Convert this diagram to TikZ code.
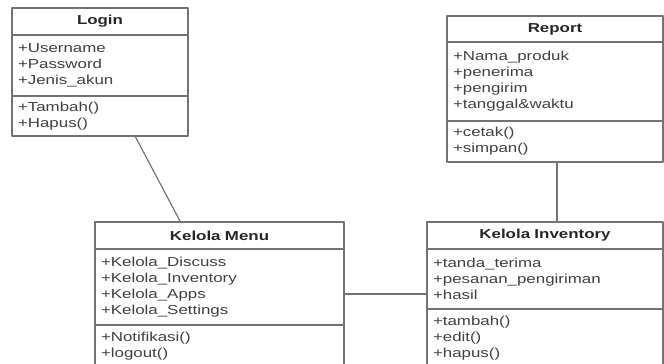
\documentclass[tikz,border=0pt]{standalone}
\usepackage{fontspec}
\setmainfont[FakeStretch=1.3]{Liberation Sans}
\usetikzlibrary{positioning}
\begin{document}
\begin{tikzpicture}[x=1pt, y=-1pt, line join=round, line cap=round,
  font=\fontsize{13}{16}\selectfont,
  box/.style={draw=black!55, line width=1.2pt, anchor=north west, inner xsep=6pt, inner ysep=0pt, outer sep=0pt, text=black!75},
  head/.style={box, font=\fontsize{13}{16}\selectfont\bfseries, align=center, text=black!85},
  list/.style={box, align=left},
  link/.style={draw=black!55, line width=1.2pt}]
\useasboundingbox (0,0) rectangle (664,364);
\clip (0,0) rectangle (664,364);
% Login
\node[head, text width=164pt, minimum height=27pt] (loginT) at (12,8) {Login};
\node[list, text width=164pt, minimum height=61pt] (loginA) at (loginT.south west) {+Username\\+Password\\+Jenis\_akun};
\node[list, text width=164pt, minimum height=40pt] (loginO) at (loginA.south west) {+Tambah()\\+Hapus()};
% Report
\node[head, text width=204pt, minimum height=26pt] (reportT) at (447,16) {Report};
\node[list, text width=204pt, minimum height=79pt] (reportA) at (reportT.south west) {+Nama\_produk\\+penerima\\+pengirim\\+tanggal\&waktu};
\node[list, text width=204pt, minimum height=41pt] (reportO) at (reportA.south west) {+cetak()\\+simpan()};
% Kelola Menu
\node[head, text width=237pt, minimum height=27pt] (menuT) at (95,222) {Kelola Menu};
\node[list, text width=237pt, minimum height=76pt] (menuA) at (menuT.south west) {+Kelola\_Discuss\\+Kelola\_Inventory\\+Kelola\_Apps\\+Kelola\_Settings};
\node[list, text width=237pt, minimum height=42pt] (menuO) at (menuA.south west) {+Notifikasi()\\+logout()};
% Kelola Inventory
\node[head, text width=224pt, minimum height=27pt] (invT) at (427,222) {Kelola Inventory};
\node[list, text width=224pt, minimum height=60pt] (invA) at (invT.south west) {+tanda\_terima\\+pesanan\_pengiriman\\+hasil};
\node[list, text width=224pt, minimum height=58pt] (invO) at (invA.south west) {+tambah()\\+edit()\\+hapus()};
% connectors
\draw[link] ([xshift=35pt]loginO.south) -- ([xshift=-39pt]menuT.north);
\draw[link] ([xshift=2pt]reportO.south) -- ([xshift=2pt]reportO.south |- invT.north);
\draw[link] ([yshift=-7pt]menuA.east) -- ([yshift=-7pt]menuA.east -| invA.west);
\end{tikzpicture}
\end{document}
